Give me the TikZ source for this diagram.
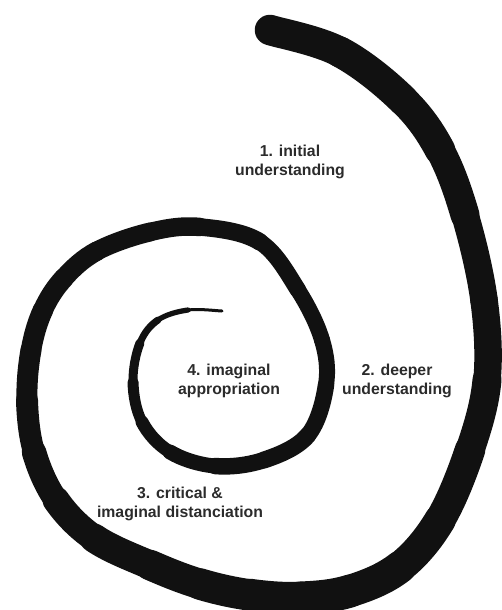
\documentclass[tikz,border=0pt]{standalone}
\usepackage{fontspec}
\setmainfont{Liberation Sans}
\usetikzlibrary{calc}
\definecolor{spiralblack}{HTML}{111111}
\definecolor{labelgray}{HTML}{2B2B2B}

\tikzset{
  lbl/.style={align=center, inner sep=0pt, text=labelgray,
    font=\fontsize{15.8}{18.5}\selectfont\bfseries},
  band/.style={draw=spiralblack, line cap=round, line join=round}
}

\begin{document}
\begin{tikzpicture}[x=1pt, y=-1pt]
\useasboundingbox (0,0) rectangle (501,610);
% centre line of the spiral: x/y/width, from the outer end inwards
\foreach [count=\n] \px/\py/\pw in {270/30/30, 340/52/31, 403/100/31, 440/150/30,
  465/215/28, 484/300/27, 487/380/28, 470/450/30, 440/520/31, 400/567/32,
  350/591/33, 300/598/33, 250/595/32, 200/584/31, 150/565/30, 94/538/28,
  56/500/26, 34/452/23, 27/400/21, 31/350/21, 43/310/20, 64/278/20,
  97/251/19, 150/232/19, 200/227/18, 260/242/17, 298/290/16, 322/340/16,
  326/385/16, 308/435/17, 264/460/17, 215/466/16, 170/452/14, 142/422/12,
  133/382/10, 140/343/8, 158/320/6, 188/310/4.5, 222/311/1.5} {
  \coordinate (p\n) at (\px,\py);
  \expandafter\xdef\csname sw\n\endcsname{\pw}
  \xdef\npts{\n}
}
\pgfmathtruncatemacro\nlast{\npts+1}
\coordinate (p0) at (p1);
\coordinate (p\nlast) at (p\npts);
\pgfmathtruncatemacro\nseg{\npts-1}
\foreach \i in {1,...,\nseg} {
  \pgfmathtruncatemacro\prv{\i-1}
  \pgfmathtruncatemacro\nxt{\i+1}
  \pgfmathtruncatemacro\nnx{\i+2}
  \pgfmathsetmacro\lw{(\csname sw\i\endcsname+\csname sw\nxt\endcsname)/2}
  \draw[band, line width=\lw pt] (p\i)
    .. controls ($(p\i)+0.1667*(p\nxt)-0.1667*(p\prv)$)
    and ($(p\nxt)-0.1667*(p\nnx)+0.1667*(p\i)$) .. (p\nxt);
}
% stage labels
\node[lbl] (initial) at (290,162) {1. initial\\understanding};
\node[lbl] (deeper) at (397,381) {2. deeper\\understanding};
\node[lbl] (distanciation) at (180,504) {3. critical \&\\imaginal distanciation};
\node[lbl] (appropriation) at (229,381) {4. imaginal\\appropriation};
\end{tikzpicture}
\end{document}
